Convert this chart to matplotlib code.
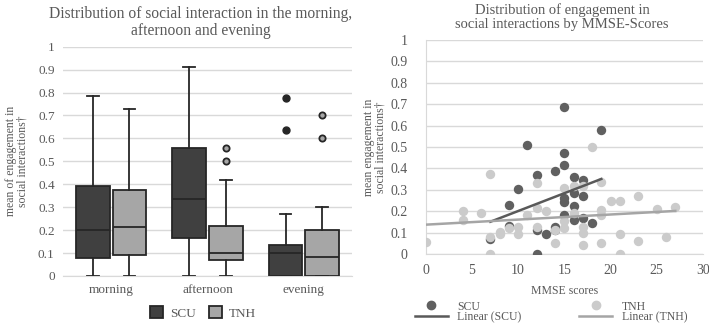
import matplotlib
matplotlib.use('Agg')
import matplotlib.pyplot as plt
from matplotlib.patches import Patch
from matplotlib.lines import Line2D
import numpy as np

plt.rcParams['font.family'] = ['Liberation Serif', 'DejaVu Serif']

#---------------- box plot data ----------------
periods = ['morning', 'afternoon', 'evening']
scu_q1 = [0.08, 0.165, 0.0]
scu_med = [0.20, 0.335, 0.10]
scu_q3 = [0.393, 0.557, 0.135]
scu_lo = [0.0, 0.0, 0.0]
scu_hi = [0.787, 0.912, 0.272]
scu_out = [[], [], [0.637, 0.778]]

tnh_q1 = [0.09, 0.068, 0.0]
tnh_med = [0.215, 0.10, 0.085]
tnh_q3 = [0.377, 0.22, 0.20]
tnh_lo = [0.0, 0.0, 0.0]
tnh_hi = [0.73, 0.418, 0.30]
tnh_out = [[], [0.50, 0.557], [0.60, 0.70]]

#---------------- scatter data ----------------
scu_mmse = [7, 9, 9, 10, 11, 12, 12, 12, 13, 14, 14, 14, 15, 15, 15, 15, 15, 15,
            16, 16, 16, 16, 17, 17, 17, 18, 19]
scu_eng = [0.07, 0.23, 0.13, 0.305, 0.51, 0.37, 0.11, 0.0, 0.093, 0.39, 0.125, 0.11,
           0.685, 0.47, 0.415, 0.26, 0.245, 0.18, 0.36, 0.285, 0.225, 0.16,
           0.345, 0.27, 0.17, 0.143, 0.58]

tnh_mmse = [0, 4, 4, 6, 7, 7, 7, 8, 8, 9, 10, 10, 11, 12, 12, 12, 13, 14, 14,
            15, 15, 15, 16, 16, 17, 17, 17, 17, 18, 19, 19, 19, 19, 20, 21, 21, 21,
            23, 23, 25, 26, 27]
tnh_eng = [0.055, 0.2, 0.158, 0.193, 0.374, 0.08, 0.0, 0.105, 0.095, 0.12, 0.125, 0.095,
           0.182, 0.333, 0.213, 0.125, 0.2, 0.11, 0.053,
           0.31, 0.155, 0.12, 0.32, 0.19, 0.32, 0.128, 0.1, 0.043, 0.5,
           0.336, 0.206, 0.18, 0.053, 0.25, 0.25, 0.093, 0.0,
           0.271, 0.062, 0.21, 0.081, 0.221]

txt = '#595959'
grid = '#d9d9d9'
dark = '#404040'
light = '#a6a6a6'
edge = '#262626'

fig = plt.figure(figsize=(7.09, 3.26), dpi=100)

#---------------- left: box plots ----------------
ax1 = fig.add_axes([63/709, 50/326, 289/709, 229.3/326])
pos = np.arange(1, len(periods)+1)

def stats(q1, med, q3, lo, hi, out):
    return [dict(q1=q1[i], med=med[i], q3=q3[i], whislo=lo[i], whishi=hi[i], fliers=out[i])
            for i in range(len(q1))]

common = dict(widths=0.35, patch_artist=True, capwidths=0.12, manage_ticks=False,
              whiskerprops=dict(color=edge, lw=1.3), capprops=dict(color=edge, lw=1.3),
              medianprops=dict(color=edge, lw=1.3), zorder=3)
ax1.bxp(stats(scu_q1, scu_med, scu_q3, scu_lo, scu_hi, scu_out), positions=pos-0.19,
        boxprops=dict(facecolor=dark, edgecolor=edge, lw=1.3),
        flierprops=dict(marker='o', markerfacecolor=edge, markeredgecolor=edge, markersize=5),
        **common)
ax1.bxp(stats(tnh_q1, tnh_med, tnh_q3, tnh_lo, tnh_hi, tnh_out), positions=pos+0.19,
        boxprops=dict(facecolor=light, edgecolor=edge, lw=1.3),
        flierprops=dict(marker='o', markerfacecolor=light, markeredgecolor=edge,
                        markeredgewidth=1.3, markersize=4.5),
        **common)

ax1.set_xlim(0.5, 3.5)
ax1.set_ylim(0, 1)
ax1.set_xticks(pos)
ax1.set_xticklabels(periods)
ax1.set_yticks(np.arange(0, 1.01, 0.1))
ax1.set_yticklabels(['0'] + ['%.1f' % v for v in np.arange(0.1, 0.95, 0.1)] + ['1'])
ax1.yaxis.grid(True, color=grid, lw=1.0)
ax1.set_axisbelow(True)
for s in ['top', 'right', 'left']:
    ax1.spines[s].set_visible(False)
ax1.spines['bottom'].set_color(grid)
ax1.tick_params(length=0, colors=txt, labelsize=9.5)
ax1.tick_params(axis='y', pad=6)
ax1.tick_params(axis='x', pad=6)
ax1.set_ylabel('mean of engagement in\nsocial interactions\u2020', color=txt, fontsize=8.5,
               labelpad=7, linespacing=0.95)
fig.text(201/709, 1-22.5/326, 'Distribution of social interaction in the morning,\nafternoon and evening',
         ha='center', va='center', color=txt, fontsize=11.2, linespacing=1.05)
ax1.legend(handles=[Patch(facecolor=dark, edgecolor=edge, lw=1.3, label='SCU'),
                    Patch(facecolor=light, edgecolor=edge, lw=1.3, label='TNH')],
           loc='center', bbox_to_anchor=(203/709, 1-313/326), bbox_transform=fig.transFigure,
           ncol=2, frameon=False, fontsize=9.5, labelcolor=txt, handlelength=1.0,
           handleheight=1.0, handletextpad=0.5, columnspacing=1.0)

#---------------- right: scatter ----------------
ax2 = fig.add_axes([425.7/709, 72/326, 277.3/709, 214/326])
ax2.scatter(scu_mmse, scu_eng, s=46, color='#606060', zorder=3, linewidths=0)
ax2.scatter(tnh_mmse, tnh_eng, s=46, color='#cbcbcb', zorder=3, linewidths=0)

for xs, ys, col in [(scu_mmse, scu_eng, '#595959'), (tnh_mmse, tnh_eng, '#a5a5a5')]:
    k, b = np.polyfit(xs, ys, 1)
    xx = np.array([min(xs), max(xs)])
    ax2.plot(xx, k*xx + b, color=col, lw=1.8, zorder=4)

ax2.set_xlim(0, 30)
ax2.set_ylim(0, 1)
ax2.set_xticks(np.arange(0, 31, 5))
ax2.set_yticks(np.arange(0, 1.01, 0.1))
ax2.set_yticklabels(['0'] + ['%.1f' % v for v in np.arange(0.1, 0.95, 0.1)] + ['1'])
ax2.yaxis.grid(True, color=grid, lw=1.0)
ax2.set_axisbelow(True)
for s in ['top', 'right']:
    ax2.spines[s].set_visible(False)
ax2.spines['bottom'].set_color(grid)
ax2.spines['left'].set_color(grid)
ax2.tick_params(length=0, colors=txt, labelsize=10)
ax2.tick_params(axis='y', pad=13)
ax2.tick_params(axis='x', pad=7)
ax2.set_xlabel('MMSE scores', color=txt, fontsize=8.5, labelpad=6)
ax2.set_ylabel('mean engagement in\nsocial interactions\u2020', color=txt, fontsize=8.5,
               labelpad=3, linespacing=0.95)
fig.text(562/709, 1-17.5/326, 'Distribution of engagement in\nsocial interactions by MMSE-Scores',
         ha='center', va='center', color=txt, fontsize=10.5, linespacing=1.1)
handles = [Line2D([], [], marker='o', ls='', color='#606060', markersize=6, label='SCU'),
           Line2D([], [], color='#595959', lw=1.8, label='Linear (SCU)'),
           Line2D([], [], marker='o', ls='', color='#cbcbcb', markersize=6, label='TNH'),
           Line2D([], [], color='#a5a5a5', lw=1.8, label='Linear (TNH)')]
ax2.legend(handles=handles, loc='center', bbox_to_anchor=(551/709, 1-312/326),
           bbox_transform=fig.transFigure, ncol=2, frameon=False, fontsize=8.5,
           labelcolor=txt, handlelength=2.8, handletextpad=0.8, columnspacing=4.9,
           labelspacing=-0.1)

fig.savefig('out.png', dpi=100)
